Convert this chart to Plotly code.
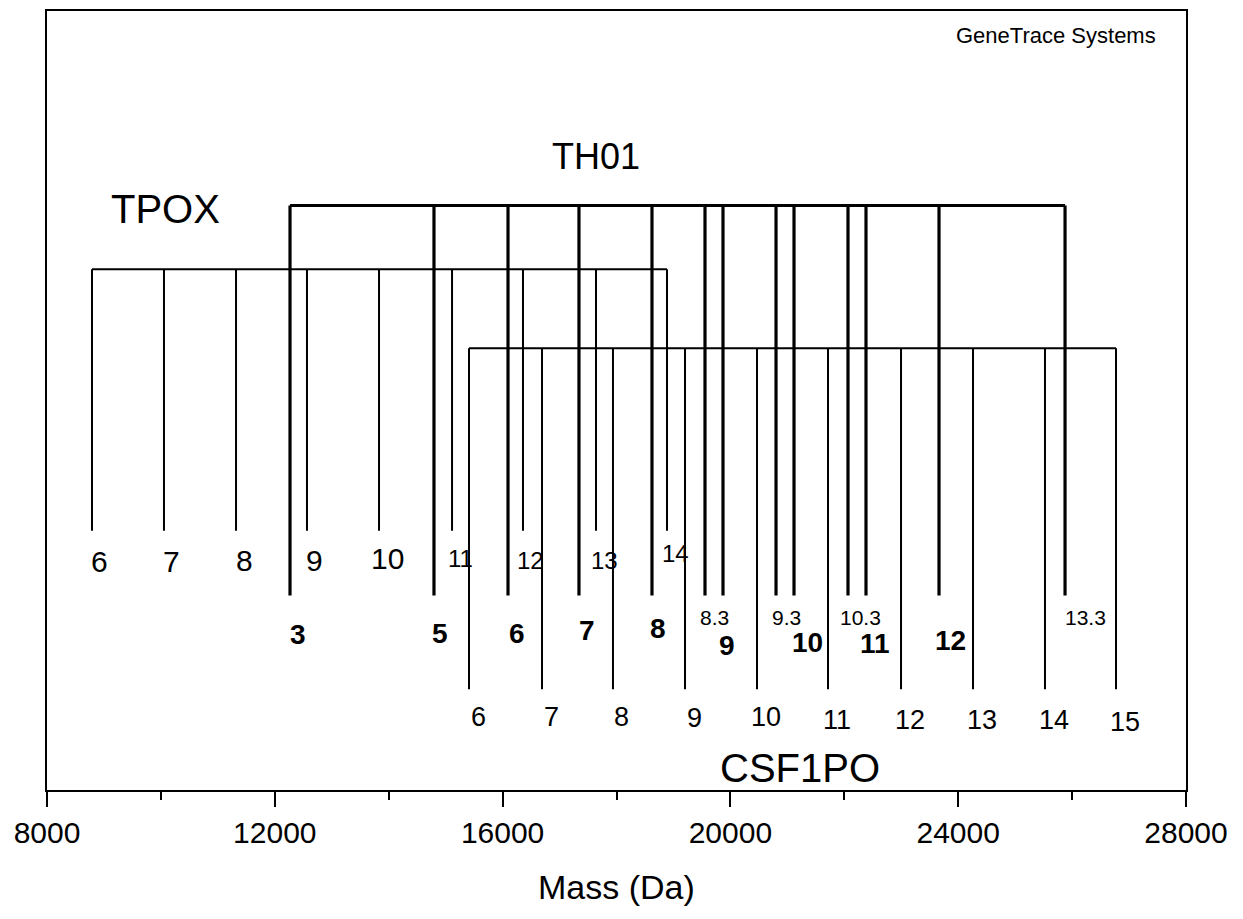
import plotly.graph_objects as go

# Allele masses (Da)
tpox_alleles = ["6", "7", "8", "9", "10", "11", "12", "13", "14"]
tpox_mass = [8790, 10054, 11319, 12565, 13830, 15112, 16358, 17640, 18887]

th01_alleles = ["3", "5", "6", "7", "8", "8.3", "9", "9.3", "10", "10.3", "11", "12", "13.3"]
th01_mass = [12267, 14795, 16095, 17341, 18623, 19554, 19870, 20801, 21117, 22065, 22381, 23663, 25876]

csf_alleles = ["6", "7", "8", "9", "10", "11", "12", "13", "14", "15"]
csf_mass = [15410, 16692, 17938, 19203, 20467, 21714, 22996, 24260, 25524, 26771]

# layout: y axis runs top->bottom in screen units, so these are just placement levels
tpox_top, tpox_bottom = 268, 530
th01_top, th01_bottom = 204, 595
csf_top, csf_bottom = 347, 689

tpox_label_y = [561, 561, 560, 560, 558, 558, 560, 560, 553]
tpox_label_size = [30, 30, 30, 30, 30, 24, 24, 24, 24]
th01_label_y = [634, 633, 633, 630, 628, 617, 645, 617, 642, 617, 643, 640, 617]
th01_label_size = [28, 28, 28, 28, 28, 21, 28, 21, 28, 21, 28, 28, 21]
th01_label_dx = [8, 6, 9, 8, 6, 9, 4, 10, 13, 12, 9, 11, 20]
csf_label_y = [717, 717, 717, 718, 717, 720, 720, 720, 720, 722]

FONT = "Arial, Liberation Sans, sans-serif"


def bracket(masses, top, bottom):
    xs = [masses[0], masses[-1], None]
    ys = [top, top, None]
    for m in masses:
        xs += [m, m, None]
        ys += [top, bottom, None]
    return xs, ys


fig = go.Figure()

for masses, top, bottom, width in [
    (tpox_mass, tpox_top, tpox_bottom, 2),
    (csf_mass, csf_top, csf_bottom, 2),
    (th01_mass, th01_top, th01_bottom, 3.2),
]:
    xs, ys = bracket(masses, top, bottom)
    fig.add_trace(go.Scatter(x=xs, y=ys, mode="lines",
                             line=dict(color="black", width=width),
                             hoverinfo="skip", showlegend=False))

annotations = []
for lab, m, y, s in zip(tpox_alleles, tpox_mass, tpox_label_y, tpox_label_size):
    annotations.append(dict(x=m, y=y, text=lab, xshift=8,
                            font=dict(size=s, family=FONT, color="black")))
for lab, m, y, s, dx in zip(th01_alleles, th01_mass, th01_label_y, th01_label_size, th01_label_dx):
    txt = lab if "." in lab else "<b>" + lab + "</b>"
    annotations.append(dict(x=m, y=y, text=txt, xshift=dx,
                            font=dict(size=s, family=FONT, color="black")))
for lab, m, y in zip(csf_alleles, csf_mass, csf_label_y):
    annotations.append(dict(x=m, y=y, text=lab, xshift=9,
                            font=dict(size=27, family=FONT, color="black")))

# locus names and credit
for txt, xp, y, s in [("TPOX", 0.104, 208, 40), ("TH01", 0.482, 155, 36),
                      ("CSF1PO", 0.661, 768, 40), ("GeneTrace Systems", 0.886, 34, 22)]:
    annotations.append(dict(x=xp, xref="paper", y=y, yref="y", text=txt,
                            font=dict(size=s, family=FONT, color="black")))

# axis title sits below the plot, outside the y range
annotations.append(dict(x=0.5, xref="paper", y=-0.125, yref="paper", text="Mass (Da)",
                        font=dict(size=34, family=FONT, color="black")))

for a in annotations:
    a.setdefault("xref", "x")
    a.setdefault("yref", "y")
    a["showarrow"] = False
    a["xanchor"] = "center"
    a["yanchor"] = "middle"

# page body has an 8px margin, so the figure is a bit smaller than the window
fig.update_layout(
    width=1227, height=903,
    margin=dict(l=39, r=49, t=1, b=121),
    plot_bgcolor="white", paper_bgcolor="white",
    annotations=annotations,
    xaxis=dict(range=[8000, 28000], tickvals=[8000, 12000, 16000, 20000, 24000, 28000],
               tickformat="d",
               ticks="outside", ticklen=15, tickwidth=2, tickcolor="black",
               minor=dict(tickvals=[10000, 14000, 18000, 22000, 26000], ticks="outside",
                          ticklen=8, tickwidth=2, tickcolor="black"),
               showline=True, linewidth=2, linecolor="black", mirror=True,
               showgrid=False, zeroline=False,
               tickfont=dict(size=30, family=FONT, color="black")),
    yaxis=dict(range=[790, 9], showline=True, linewidth=2, linecolor="black", mirror=True,
               showticklabels=False, ticks="", showgrid=False, zeroline=False),
)

fig.write_html("out.html")
